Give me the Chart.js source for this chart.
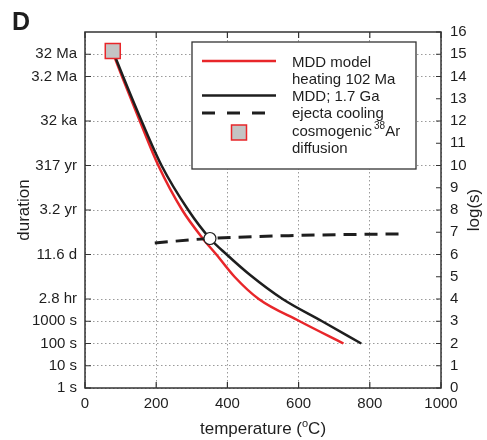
<!DOCTYPE html>
<html>
<head>
<meta charset="utf-8">
<script src="https://cdn.jsdelivr.net/npm/chart.js@4.4.0/dist/chart.umd.min.js"></script>
<style>
html,body{margin:0;padding:0;background:#fff;}
#wrap{width:487px;height:440px;position:relative;}
</style>
</head>
<body>
<div id="wrap"><canvas id="chart"></canvas></div>
<script>
// values: temperature (C) and log10 of duration (s)
var tempRed=[80,104,154,206,273,332,369,420,488,603,726];
var logRed=[15,14,12,10,8,6.7,6,5,4,3,2];
var tempBlack=[82,107,159,215,290,351,398,463,555,666,776];
var logBlack=[15,14,12,10,8,6.72,6,5.09,4,3,2];
var tempEjecta=[196,351,603,750,902];
var logEjecta=[6.52,6.72,6.86,6.9,6.93];
var tempCosmo=[78];
var logCosmo=[15.15];
var tempCross=[351];
var logCross=[6.72];

var xTicks=[0,200,400,600,800,1000];
var leftTickVals=[0,1,2,3,4,6,8,10,12,14,15];
var leftTickLabels=['1 s','10 s','100 s','1000 s','2.8 hr','11.6 d','3.2 yr','317 yr','32 ka','3.2 Ma','32 Ma'];
var rightTickVals=[0,1,2,3,4,5,6,7,8,9,10,11,12,13,14,15,16];

var legendLines=['MDD model','heating 102 Ma','MDD; 1.7 Ga','ejecta cooling','cosmogenic','diffusion'];

var FONT='"Liberation Sans", Arial, sans-serif';
var RED='#e8262a';
var INK='#1e1e1e';

function pts(xs,ys){
  return xs.map(function(v,i){ return {x:v,y:ys[i]}; });
}

var decor={
  id:'decor',
  beforeDraw:function(chart){
    var ctx=chart.ctx;
    ctx.save();
    ctx.fillStyle='#fff';
    ctx.fillRect(0,0,chart.width,chart.height);
    ctx.restore();
  },
  afterDraw:function(chart){
    var ctx=chart.ctx, a=chart.chartArea;
    var sx=chart.scales.x, sy=chart.scales.y, sy2=chart.scales.y2;
    ctx.save();

    // frame
    ctx.strokeStyle='#333';
    ctx.lineWidth=1.5;
    ctx.strokeRect(a.left,a.top,a.right-a.left,a.bottom-a.top);

    // inward ticks
    ctx.lineWidth=1.2;
    ctx.beginPath();
    xTicks.forEach(function(v){
      var px=sx.getPixelForValue(v);
      ctx.moveTo(px,a.bottom); ctx.lineTo(px,a.bottom-6);
      ctx.moveTo(px,a.top); ctx.lineTo(px,a.top+6);
    });
    leftTickVals.forEach(function(v){
      var py=sy.getPixelForValue(v);
      ctx.moveTo(a.left,py); ctx.lineTo(a.left+6,py);
    });
    rightTickVals.forEach(function(v){
      var py=sy2.getPixelForValue(v);
      ctx.moveTo(a.right,py); ctx.lineTo(a.right-5,py);
    });
    ctx.stroke();

    // legend box
    var lx=192, ly=42, lw=224, lh=127;
    ctx.fillStyle='#fff';
    ctx.fillRect(lx,ly,lw,lh);
    ctx.strokeStyle='#333';
    ctx.lineWidth=1.3;
    ctx.strokeRect(lx,ly,lw,lh);

    ctx.lineWidth=2.5;
    ctx.strokeStyle=RED;
    ctx.beginPath(); ctx.moveTo(202,61); ctx.lineTo(276,61); ctx.stroke();
    ctx.strokeStyle=INK;
    ctx.beginPath(); ctx.moveTo(202,95.5); ctx.lineTo(276,95.5); ctx.stroke();
    ctx.lineWidth=3;
    ctx.setLineDash([13,12]);
    ctx.beginPath(); ctx.moveTo(202,113); ctx.lineTo(268,113); ctx.stroke();
    ctx.setLineDash([]);
    ctx.fillStyle='#c4c4c4';
    ctx.fillRect(231.5,125,15,15);
    ctx.strokeStyle=RED;
    ctx.lineWidth=1.5;
    ctx.strokeRect(231.5,125,15,15);

    ctx.fillStyle=INK;
    ctx.font='15px '+FONT;
    ctx.textAlign='left';
    ctx.textBaseline='alphabetic';
    var tx=292, ty=66.5;
    legendLines.forEach(function(t,i){
      ctx.fillText(t,tx,ty+i*17.3);
    });
    var cw=ctx.measureText(legendLines[4]).width;
    ctx.font='10px '+FONT;
    ctx.fillText('38',tx+cw+2,ty+4*17.3-7);
    var sw=ctx.measureText('38').width;
    ctx.font='15px '+FONT;
    ctx.fillText('Ar',tx+cw+2+sw,ty+4*17.3);

    // panel letter
    ctx.font='bold 25px '+FONT;
    ctx.fillText('D',12,30);

    // x title with superscript o
    ctx.font='17px '+FONT;
    var p1='temperature (', p2='o', p3='C)';
    var w1=ctx.measureText(p1).width;
    ctx.font='11px '+FONT;
    var w2=ctx.measureText(p2).width;
    ctx.font='17px '+FONT;
    var w3=ctx.measureText(p3).width;
    var startX=(a.left+a.right)/2-(w1+w2+w3)/2;
    ctx.fillText(p1,startX,434);
    ctx.font='11px '+FONT;
    ctx.fillText(p2,startX+w1,427);
    ctx.font='17px '+FONT;
    ctx.fillText(p3,startX+w1+w2,434);

    // y titles
    var midY=(a.top+a.bottom)/2;
    ctx.textAlign='center';
    ctx.save();
    ctx.translate(29,midY);
    ctx.rotate(-Math.PI/2);
    ctx.fillText('duration',0,0);
    ctx.restore();
    ctx.save();
    ctx.translate(479,midY);
    ctx.rotate(-Math.PI/2);
    ctx.fillText('log(s)',0,0);
    ctx.restore();

    ctx.restore();
  }
};

new Chart(document.getElementById('chart'),{
  type:'line',
  data:{
    datasets:[
      {
        label:'cosmogenic 38Ar diffusion',
        data:pts(tempCosmo,logCosmo),
        showLine:false,
        pointStyle:'rect',
        pointRadius:10.6,
        pointBackgroundColor:'#c4c4c4',
        pointBorderColor:RED,
        pointBorderWidth:1.5,
        order:0
      },
      {
        label:'intersection',
        data:pts(tempCross,logCross),
        showLine:false,
        pointStyle:'circle',
        pointRadius:6,
        pointBackgroundColor:'#fff',
        pointBorderColor:INK,
        pointBorderWidth:1.2,
        order:1
      },
      {
        label:'ejecta cooling',
        data:pts(tempEjecta,logEjecta),
        borderColor:INK,
        borderWidth:3,
        borderDash:[13,8],
        pointRadius:0,
        cubicInterpolationMode:'monotone',
        order:2
      },
      {
        label:'MDD; 1.7 Ga',
        data:pts(tempBlack,logBlack),
        borderColor:INK,
        borderWidth:2.5,
        pointRadius:0,
        cubicInterpolationMode:'monotone',
        order:3
      },
      {
        label:'MDD model heating 102 Ma',
        data:pts(tempRed,logRed),
        borderColor:RED,
        borderWidth:2.5,
        pointRadius:0,
        cubicInterpolationMode:'monotone',
        order:4
      }
    ]
  },
  options:{
    responsive:true,
    maintainAspectRatio:false,
    animation:false,
    layout:{padding:{top:32,left:0,right:0,bottom:0}},
    plugins:{legend:{display:false},tooltip:{enabled:false}},
    scales:{
      x:{
        type:'linear',
        min:0,max:1000,
        afterBuildTicks:function(axis){ axis.ticks=xTicks.map(function(v){ return {value:v}; }); },
        afterFit:function(axis){ axis.height=52; },
        ticks:{
          color:INK,font:{family:FONT,size:15},padding:7,maxRotation:0,
          callback:function(value){ return String(value); }
        },
        grid:{color:'#9a9a9a',lineWidth:1,drawTicks:false},
        border:{display:false,dash:[1.5,2.5]}
      },
      y:{
        type:'linear',
        position:'left',
        min:0,max:16,
        afterBuildTicks:function(axis){ axis.ticks=leftTickVals.map(function(v){ return {value:v}; }); },
        afterFit:function(axis){ axis.width=85; },
        ticks:{
          color:INK,font:{family:FONT,size:15},padding:8,
          callback:function(value,index){ return leftTickLabels[index]; }
        },
        grid:{color:'#9a9a9a',lineWidth:1,drawTicks:false},
        border:{display:false,dash:[1.5,2.5]}
      },
      y2:{
        type:'linear',
        position:'right',
        min:0,max:16,
        afterBuildTicks:function(axis){ axis.ticks=rightTickVals.map(function(v){ return {value:v}; }); },
        afterFit:function(axis){ axis.width=46; },
        ticks:{color:INK,font:{family:FONT,size:15},padding:9},
        grid:{drawOnChartArea:false,drawTicks:false},
        border:{display:false}
      }
    }
  },
  plugins:[decor]
});
</script>
</body>
</html>
